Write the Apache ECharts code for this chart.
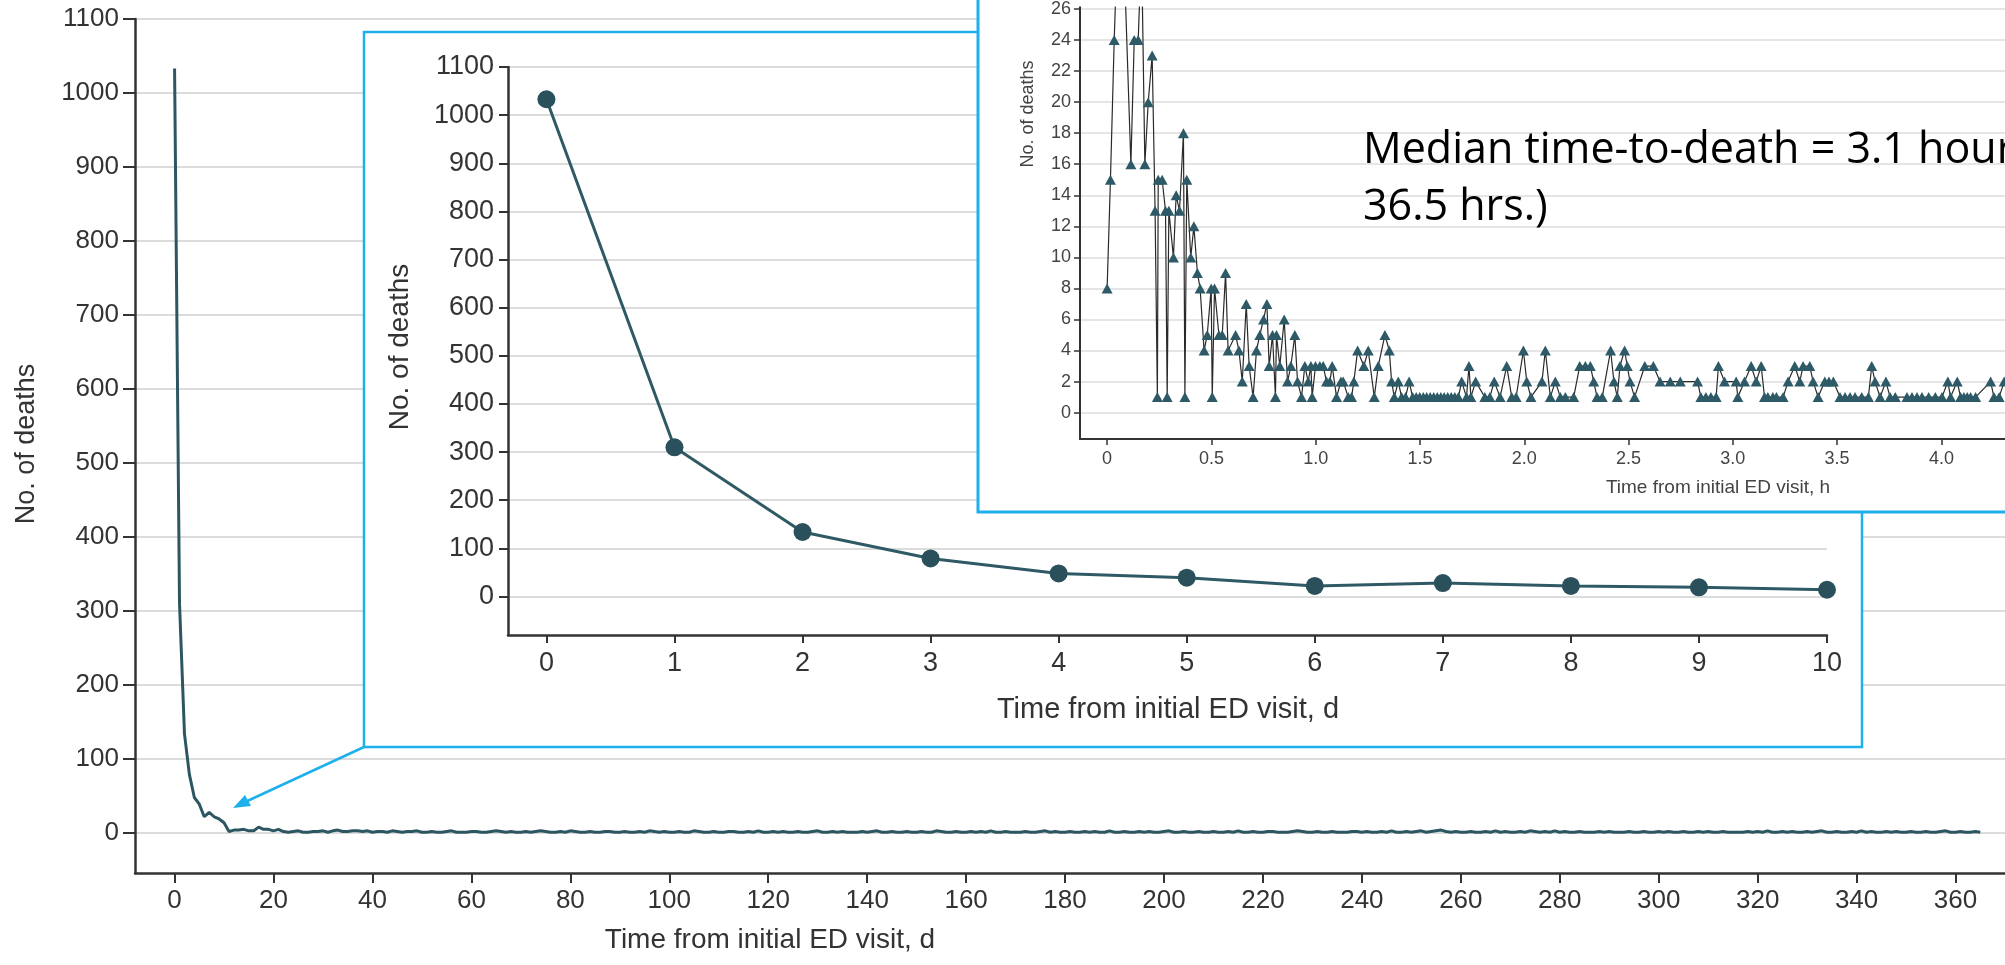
<!DOCTYPE html>
<html><head><meta charset="utf-8">
<script src="https://cdn.jsdelivr.net/npm/echarts@6/dist/echarts.min.js"></script>
<style>html,body{margin:0;padding:0;background:#fff;overflow:hidden}#c{width:2005px;height:965px}</style>
</head><body><div id="c"></div>
<script>
// ---- Data ----
// Daily deaths, day 0..365 (main chart); days 0..10 also shown in the inset
const dailyDeaths = [
  1033, 310, 134, 79, 48, 39, 22, 28, 22, 19, 14,
  2,4,4,5,3,3,8,5,5,3,5,2,1,2,3,1,1,2,2,3,
  1,3,4,2,2,3,3,2,3,1,2,2,1,3,2,1,2,2,3,1,
  1,2,1,1,2,3,1,1,1,2,2,1,1,2,3,2,1,2,1,1,
  2,1,2,3,2,1,1,2,1,3,2,1,1,2,1,1,2,2,1,1,
  2,1,1,2,1,3,2,1,2,1,1,2,1,1,3,2,1,1,2,1,
  1,2,2,1,1,2,1,3,1,1,2,1,2,1,1,2,1,1,2,3,
  1,1,2,1,2,1,1,1,2,1,2,3,1,1,2,1,1,2,1,1,
  2,1,1,3,2,1,1,2,1,1,2,1,2,1,3,1,1,2,1,1,
  1,2,1,1,2,3,1,2,1,1,2,1,1,2,1,2,1,1,3,1,
  1,2,1,1,2,1,2,1,1,2,3,1,1,2,1,1,2,1,1,2,
  1,1,2,1,3,1,1,2,1,1,2,2,1,1,1,2,3,2,1,1,
  2,1,1,2,1,1,1,2,2,1,2,1,1,2,1,3,1,1,2,1,
  2,3,1,2,3,4,2,1,2,1,1,2,1,1,2,1,3,1,2,1,
  1,2,1,3,2,1,2,1,3,1,2,1,1,2,1,1,1,2,1,2,
  1,1,1,2,1,1,2,1,1,2,1,2,1,1,2,1,1,2,1,2,
  1,1,2,1,1,1,1,2,1,2,1,3,1,1,2,1,2,1,1,2,
  1,2,3,1,1,2,1,1,2,1,3,1,2,1,1,2,1,2,1,1,
  2,1,1,2,1,1,2,3,1,1,2,1,1,2,1
];
const insetDays = 11;
const dayTicks = [0,20,40,60,80,100,120,140,160,180,200,220,240,260,280,300,320,340,360];
const deathTicks = [0,100,200,300,400,500,600,700,800,900,1000,1100];
const insetDayTicks = [0,1,2,3,4,5,6,7,8,9,10];

// Deaths by time from initial ED visit (hours), first ~4.4 h
const hourTimes = [
  0,0.016,0.034,0.056,0.082,0.114,0.130,0.149,0.165,0.181,0.197,0.216,0.230,0.241,0.245,0.264,0.280,0.288,0.296,0.318,
  0.331,0.347,0.366,0.373,0.382,0.401,0.416,0.433,0.446,0.465,0.480,0.499,0.504,0.515,0.536,0.552,0.568,0.580,0.616,0.632,
  0.648,0.667,0.681,0.700,0.716,0.732,0.750,0.766,0.777,0.793,0.807,0.812,0.828,0.849,0.865,0.881,0.900,0.913,0.932,0.948,
  0.964,0.977,0.983,0.999,1.020,1.036,1.052,1.068,1.079,1.100,1.121,1.132,1.156,1.172,1.183,1.201,1.231,1.252,1.281,1.300,
  1.332,1.353,1.364,1.377,1.396,1.412,1.431,1.448,1.465,1.482,1.499,1.516,1.532,1.549,1.566,1.583,1.600,1.616,1.633,1.650,
  1.667,1.684,1.700,1.723,1.735,1.744,1.767,1.811,1.835,1.856,1.884,1.916,1.940,1.961,1.996,2.012,2.032,2.085,2.101,2.125,
  2.149,2.173,2.197,2.237,2.266,2.293,2.317,2.333,2.349,2.374,2.414,2.430,2.446,2.459,2.481,2.494,2.507,2.529,2.578,2.619,
  2.651,2.700,2.748,2.831,2.847,2.871,2.895,2.920,2.931,2.960,3.016,3.024,3.056,3.088,3.112,3.136,3.152,3.168,3.192,3.209,
  3.241,3.265,3.297,3.321,3.337,3.369,3.385,3.409,3.441,3.461,3.482,3.514,3.538,3.562,3.586,3.618,3.650,3.666,3.682,3.706,
  3.734,3.754,3.779,3.835,3.859,3.883,3.907,3.939,3.971,4.003,4.031,4.044,4.076,4.092,4.108,4.124,4.140,4.164,4.236,4.252,
  4.277,4.301,4.330,4.360,4.400
];
const hourDeaths = [
  8,15,24,33,29,16,24,24,30,16,20,23,13,1,15,15,13,1,13,10,
  14,13,18,1,15,10,12,9,8,4,5,8,1,8,5,5,9,4,5,4,
  2,7,3,1,4,5,6,7,3,5,1,5,3,6,2,3,5,2,1,3,
  2,3,1,3,3,3,2,2,3,1,2,2,1,1,2,4,3,4,1,3,
  5,4,2,1,2,1,1,2,1,1,1,1,1,1,1,1,1,1,1,1,
  1,1,2,1,3,1,2,1,1,2,1,3,1,1,4,2,1,2,4,1,
  2,1,1,1,3,3,3,2,1,1,4,2,1,3,4,3,2,1,3,3,
  2,2,2,2,1,1,1,1,3,2,2,1,2,3,2,3,1,1,1,1,
  1,2,3,2,3,3,2,1,2,2,2,1,1,1,1,1,1,3,2,1,
  2,1,1,1,1,1,1,1,1,1,2,1,2,1,1,1,1,1,2,1,
  1,2,1,1,1
];
const hourTicks = [0,0.5,1,1.5,2,2.5,3,3.5,4];
const hourDeathTicks = [0,2,4,6,8,10,12,14,16,18,20,22,24,26];

// ---- Styles ----
const FONT = "'Liberation Sans', Arial, sans-serif";
const TXT = '#333';
const TEAL = '#2c5661';
const BLUE = '#1eb0ea';
const GRID = '#dcdcdc';
const plain = v => String(v);

const chart = echarts.init(document.getElementById('c'), null, {renderer: 'canvas'});

function valAxis(o) {
  return Object.assign({
    type: 'value',
    axisLine: {show: true, onZero: false, lineStyle: {color: TXT, width: 2.5}},
    axisTick: {show: true, length: 10, lineStyle: {color: TXT, width: 2}},
    axisLabel: {color: TXT, fontFamily: FONT},
    splitLine: {show: false}
  }, o);
}

const option = {
  animation: false,
  backgroundColor: '#fff',
  grid: [
    {left: 135, right: 0, top: 19, bottom: 92},
    {left: 508, right: 178, top: 67, bottom: 330},
    {left: 1080, right: 0, top: 0, bottom: 526}
  ],
  xAxis: [
    valAxis({gridIndex: 0, min: -8, max: 370, z: 0,
      axisTick: {show: true, length: 10, customValues: dayTicks, lineStyle: {color: TXT, width: 2}},
      axisLabel: {customValues: dayTicks, fontSize: 26, margin: 15, color: TXT, fontFamily: FONT, formatter: plain}}),
    valAxis({gridIndex: 1, min: -0.3, max: 10, z: 11,
      axisTick: {show: true, length: 8, customValues: insetDayTicks, lineStyle: {color: TXT, width: 2}},
      axisLabel: {customValues: insetDayTicks, fontSize: 27, margin: 15, color: TXT, fontFamily: FONT, formatter: plain}}),
    valAxis({gridIndex: 2, min: -0.13, max: 4.305, z: 21,
      axisLine: {show: true, onZero: false, lineStyle: {color: TXT, width: 2}},
      axisTick: {show: true, length: 6, customValues: hourTicks, lineStyle: {color: TXT, width: 1.5}},
      axisLabel: {customValues: hourTicks, fontSize: 18, margin: 11, color: '#444', fontFamily: FONT,
        formatter: v => v === 0 ? '0' : v.toFixed(1)}})
  ],
  yAxis: [
    valAxis({gridIndex: 0, min: -54, max: 1100, z: 0,
      axisTick: {show: true, length: 12, customValues: deathTicks, lineStyle: {color: TXT, width: 2}},
      axisLabel: {customValues: deathTicks, fontSize: 26, margin: 16, color: TXT, fontFamily: FONT, formatter: plain},
      splitLine: {show: true, lineStyle: {color: GRID, width: 2}}}),
    valAxis({gridIndex: 1, min: -80, max: 1100, z: 11,
      axisTick: {show: true, length: 9, customValues: deathTicks, lineStyle: {color: TXT, width: 2}},
      axisLabel: {customValues: deathTicks, fontSize: 27, margin: 14, color: TXT, fontFamily: FONT, formatter: plain},
      splitLine: {show: true, lineStyle: {color: GRID, width: 2}}}),
    valAxis({gridIndex: 2, min: -1.7, max: 26.12, z: 21,
      axisLine: {show: true, onZero: false, lineStyle: {color: TXT, width: 2}},
      axisTick: {show: true, length: 6, customValues: hourDeathTicks, lineStyle: {color: TXT, width: 1.5}},
      axisLabel: {customValues: hourDeathTicks, fontSize: 18, margin: 9, color: '#444', fontFamily: FONT, formatter: plain},
      splitLine: {show: true, lineStyle: {color: GRID, width: 1.6}}})
  ],
  series: [
    {type: 'line', xAxisIndex: 0, yAxisIndex: 0, z: 2,
      data: dailyDeaths.map((v, i) => [i, v]),
      showSymbol: false, lineStyle: {color: TEAL, width: 3}},
    {type: 'line', xAxisIndex: 1, yAxisIndex: 1, z: 12,
      data: dailyDeaths.slice(0, insetDays).map((v, i) => [i, v]),
      symbol: 'circle', symbolSize: 18,
      itemStyle: {color: '#2a505b'}, lineStyle: {color: '#2f5a65', width: 3}},
    {type: 'line', xAxisIndex: 2, yAxisIndex: 2, z: 22,
      data: hourTimes.map((t, i) => [t, hourDeaths[i]]),
      symbol: 'triangle', symbolSize: [11, 10],
      itemStyle: {color: '#2d5a66'}, lineStyle: {color: '#2a2a2a', width: 1.2}}
  ],
  graphic: [
    // main chart titles
    {type: 'text', x: 27, y: 444, rotation: Math.PI / 2, z: 1,
      style: {text: 'No. of deaths', fontSize: 27, fontFamily: FONT, fill: TXT, align: 'center', verticalAlign: 'middle'}},
    {type: 'text', x: 770, y: 940, z: 1,
      style: {text: 'Time from initial ED visit, d', fontSize: 28, fontFamily: FONT, fill: TXT, align: 'center', verticalAlign: 'middle'}},
    // arrow from inset to main curve
    {type: 'line', z: 5, shape: {x1: 364, y1: 747, x2: 243, y2: 803},
      style: {stroke: BLUE, lineWidth: 2.5}},
    {type: 'polygon', z: 5, shape: {points: [[233, 808], [251, 806], [245, 795]]},
      style: {fill: BLUE}},
    // middle inset box
    {type: 'rect', z: 10, shape: {x: 364, y: 32, width: 1498, height: 715},
      style: {fill: '#fff', stroke: BLUE, lineWidth: 2.5}},
    {type: 'text', x: 400, y: 347, rotation: Math.PI / 2, z: 13,
      style: {text: 'No. of deaths', fontSize: 28, fontFamily: FONT, fill: TXT, align: 'center', verticalAlign: 'middle'}},
    {type: 'text', x: 1168, y: 710, z: 13,
      style: {text: 'Time from initial ED visit, d', fontSize: 29, fontFamily: FONT, fill: TXT, align: 'center', verticalAlign: 'middle'}},
    // top-right inset box
    {type: 'rect', z: 20, shape: {x: 978, y: -20, width: 1100, height: 532},
      style: {fill: '#fff', stroke: BLUE, lineWidth: 3}},
    {type: 'text', x: 1028, y: 114, rotation: Math.PI / 2, z: 23,
      style: {text: 'No. of deaths', fontSize: 18, fontFamily: FONT, fill: '#444', align: 'center', verticalAlign: 'middle'}},
    {type: 'text', x: 1718, y: 488, z: 23,
      style: {text: 'Time from initial ED visit, h', fontSize: 19, fontFamily: FONT, fill: '#444', align: 'center', verticalAlign: 'middle'}},
    {type: 'text', x: 1363, y: 151, z: 30,
      style: {text: 'Median time-to-death = 3.1 hours (IQR', fontSize: 43, fontFamily: "'Open Sans', sans-serif", fill: '#000', align: 'left', verticalAlign: 'middle'}},
    {type: 'text', x: 1363, y: 208, z: 30,
      style: {text: '36.5 hrs.)', fontSize: 43, fontFamily: "'Open Sans', sans-serif", fill: '#000', align: 'left', verticalAlign: 'middle'}}
  ]
};
chart.setOption(option);
</script>
</body></html>
